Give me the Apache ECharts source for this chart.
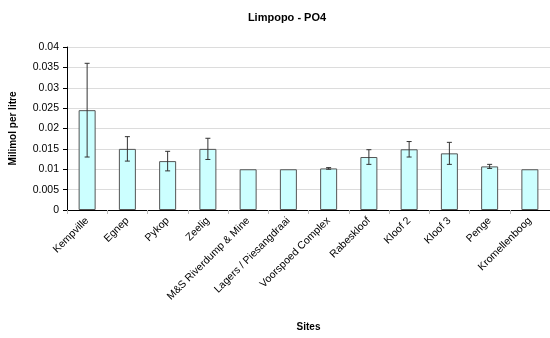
<!DOCTYPE html>
<html>
<head>
<meta charset="utf-8">
<script src="https://cdn.jsdelivr.net/npm/echarts@6/dist/echarts.min.js"></script>
<style>
  html, body { margin: 0; padding: 0; background: #fff; }
  #chart { width: 550px; height: 338px; }
</style>
</head>
<body>
<div id="chart"></div>
<script>
// Sampling sites along the Limpopo
const sites = ['Kempville', 'Egnep', 'Pykop', 'Zeelig', 'M&S Riverdump & Mine',
  'Lagers / Piesangdraai', 'Voorspoed Complex', 'Rabeskloof', 'Kloof 2', 'Kloof 3',
  'Penge', 'Kromellenboog'];
// Mean PO4 concentration (mmol/L)
const po4Mean = [0.0245, 0.015, 0.012, 0.015, 0.010, 0.010, 0.0102, 0.013, 0.0149, 0.0139, 0.0107, 0.010];
// Standard deviation (error bar half-length)
const po4Sd = [0.0115, 0.003, 0.0024, 0.0026, 0, 0, 0.0002, 0.0018, 0.0019, 0.0027, 0.0005, 0];
const yTicks = { min: 0, max: 0.04, interval: 0.005 };

// only sites with a spread get an error bar
const errorData = sites
  .map((s, i) => [i, po4Mean[i] - po4Sd[i], po4Mean[i] + po4Sd[i]])
  .filter((d, i) => po4Sd[i] > 0);

const chart = echarts.init(document.getElementById('chart'), null, { renderer: 'canvas' });
chart.setOption({
  animation: false,
  textStyle: { fontFamily: 'Liberation Sans, Arial, sans-serif' },
  title: {
    text: 'Limpopo - PO4',
    left: 282, top: 7, textAlign: 'center',
    textStyle: { fontSize: 11, fontWeight: 'bold', color: '#000', fontFamily: 'Liberation Sans, Arial, sans-serif' }
  },
  grid: { left: 64, top: 47, width: 493, height: 163, containLabel: false },
  xAxis: {
    type: 'category',
    data: sites,
    name: 'Sites',
    nameLocation: 'middle',
    nameGap: 112,
    nameTextStyle: { fontSize: 10, fontWeight: 'bold', color: '#000' },
    axisLine: { lineStyle: { color: '#000', width: 1 } },
    axisTick: { show: true, length: 4, lineStyle: { color: '#bbb' } },
    axisLabel: { rotate: 45, fontSize: 10.5, color: '#000', margin: 9, interval: 0 }
  },
  yAxis: {
    type: 'value',
    min: yTicks.min, max: yTicks.max, interval: yTicks.interval,
    name: 'Milimol per litre',
    nameLocation: 'middle',
    nameGap: 49,
    nameTextStyle: { fontSize: 10, fontWeight: 'bold', color: '#000' },
    axisLine: { show: true, lineStyle: { color: '#000', width: 1 } },
    axisTick: { show: true, length: 4, lineStyle: { color: '#000' } },
    axisLabel: { fontSize: 10.5, color: '#000', margin: 8,
      formatter: v => String(parseFloat(v.toFixed(4))) },
    splitLine: { lineStyle: { color: '#dcdcdc', width: 1 } }
  },
  series: [
    {
      type: 'bar',
      data: po4Mean,
      barWidth: 17,
      itemStyle: { color: '#ccffff', borderColor: '#555', borderWidth: 1 }
    },
    {
      type: 'custom',
      data: errorData,
      z: 10,
      renderItem: function (params, api) {
        const x = api.value(0);
        const lo = api.coord([x, api.value(1)]);
        const hi = api.coord([x, api.value(2)]);
        const cap = 2.5;
        const style = { stroke: '#333', lineWidth: 1 };
        return {
          type: 'group',
          children: [
            { type: 'line', shape: { x1: hi[0], y1: hi[1], x2: lo[0], y2: lo[1] }, style },
            { type: 'line', shape: { x1: hi[0] - cap, y1: hi[1], x2: hi[0] + cap, y2: hi[1] }, style },
            { type: 'line', shape: { x1: lo[0] - cap, y1: lo[1], x2: lo[0] + cap, y2: lo[1] }, style }
          ]
        };
      }
    }
  ]
});
</script>
</body>
</html>
